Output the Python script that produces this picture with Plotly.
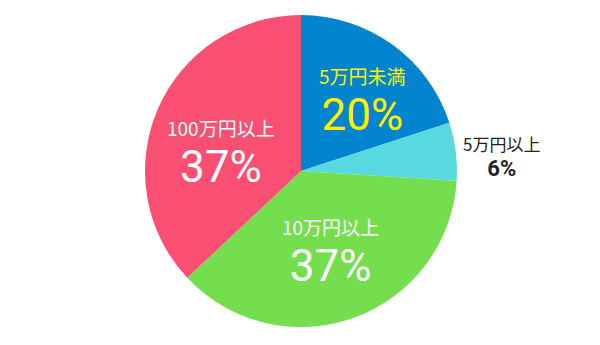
import plotly.graph_objects as go

labels = ["5万円未満", "5万円以上", "10万円以上", "100万円以上"]
values = [20, 6, 37, 37]
colors = ["#0384CF", "#58D9E0", "#74DE4E", "#F94F72"]
label_colors = ["#FFF000", "#222222", "#FFFFFF", "#FFFFFF"]
# label anchor positions in pixels (centre of the label block)
label_pos = [(362, 101), (501, 156), (330, 253), (221, 154)]

W, H = 600, 345
FONT = "Noto Sans CJK JP"

fig = go.Figure(go.Pie(
    labels=labels,
    values=values,
    sort=False,
    direction="clockwise",
    rotation=0,
    marker=dict(colors=colors, line=dict(width=0)),
    textinfo="none",
    hoverinfo="label+percent",
    domain=dict(x=[145 / W, 457 / W], y=[1 - 327 / H, 1 - 15 / H]),
    showlegend=False,
))

annotations = []
for i, (lab, v) in enumerate(zip(labels, values)):
    px, py = label_pos[i]
    outside = (i == 1)
    if outside:
        text = (f"<span style='font-size:17px'>{lab}</span><br>"
                f"<span style='font-size:22px;font-family:Roboto'><b>{v}%</b></span>")
        base = 19
    else:
        text = (f"<span style='font-size:19px'>{lab}</span><br><br>"
                f"<span style='font-size:44px;font-family:Roboto'>{v}%</span>")
        base = 17.5
    annotations.append(dict(
        x=px / W, y=1 - py / H, xref="paper", yref="paper",
        text=text, showarrow=False,
        font=dict(family=FONT, size=base, color=label_colors[i]),
        xanchor="center", yanchor="middle", align="center",
    ))

fig.update_layout(
    width=W, height=H,
    margin=dict(l=0, r=0, t=0, b=0),
    paper_bgcolor="white",
    plot_bgcolor="white",
    annotations=annotations,
)

fig.write_html("out.html")
